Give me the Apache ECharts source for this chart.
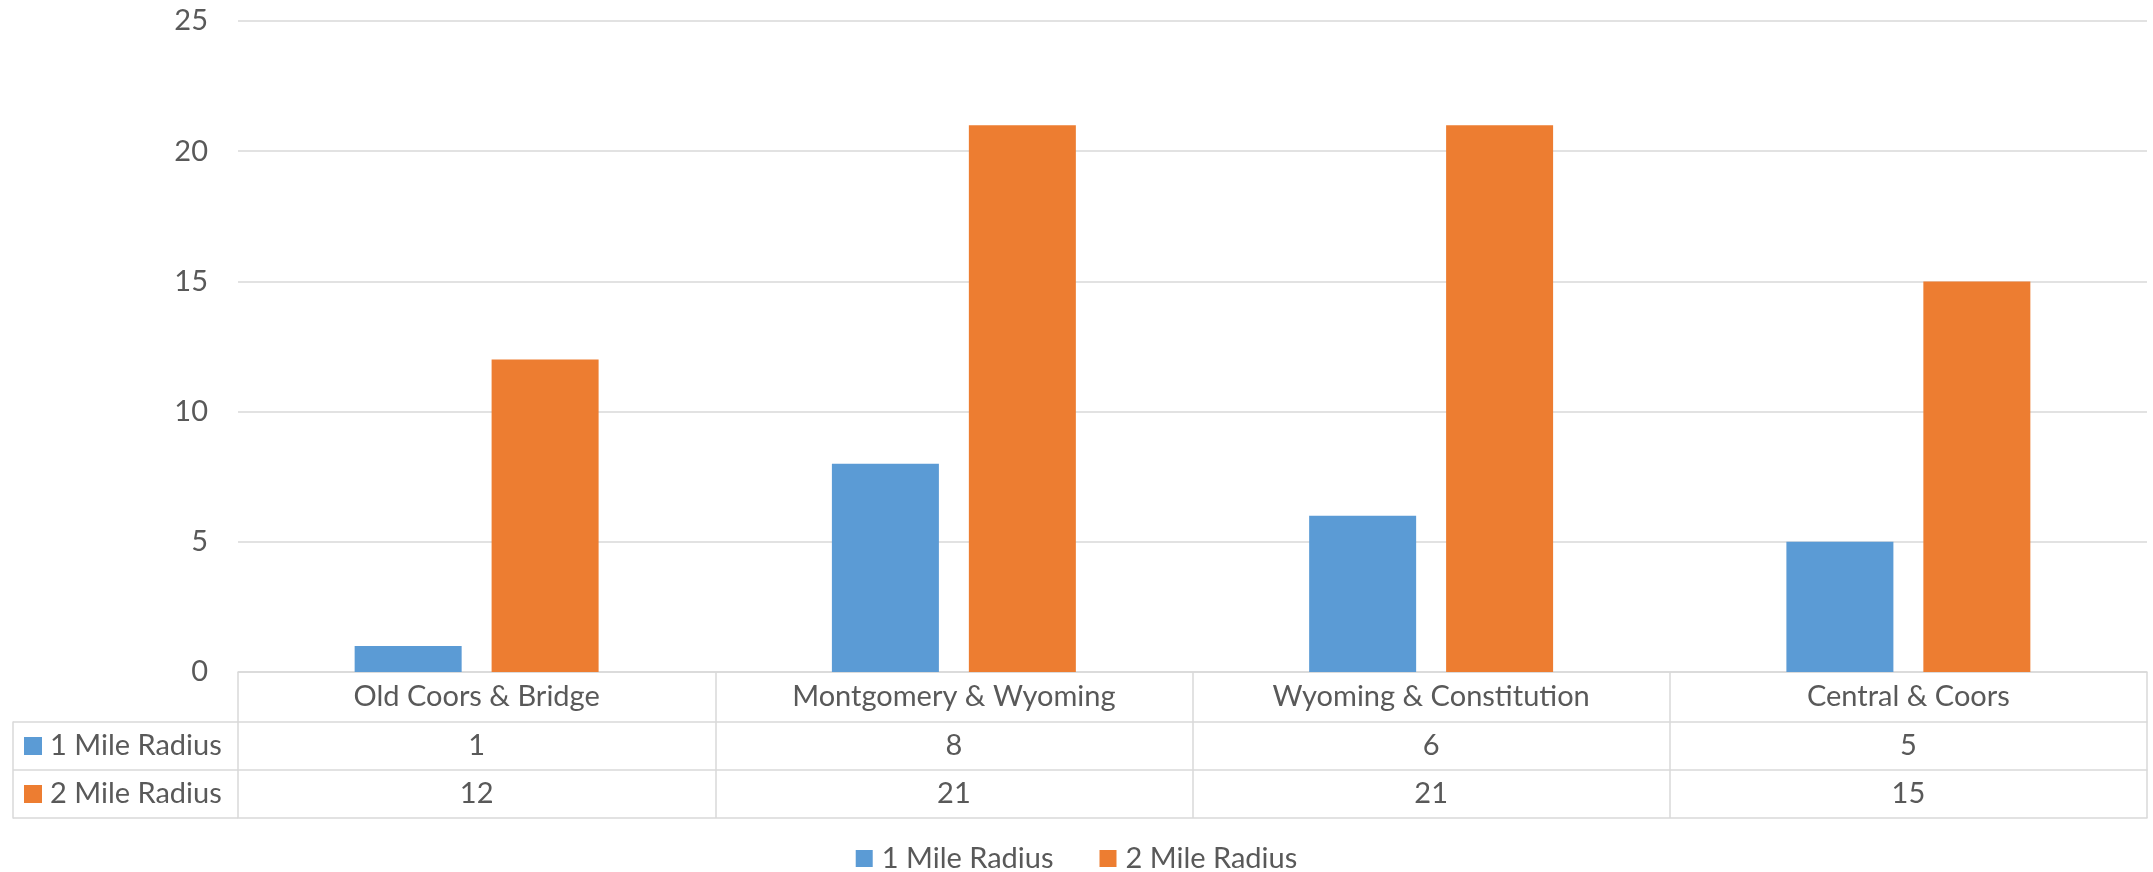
<!DOCTYPE html>
<html>
<head>
<meta charset="utf-8">
<script src="https://cdn.jsdelivr.net/npm/echarts@6/dist/echarts.min.js"></script>
<style>
html,body{margin:0;padding:0;background:#fff;}
#chart{width:2153px;height:872px;}
</style>
</head>
<body>
<div id="chart"></div>
<script>
const categories = ['Old Coors & Bridge', 'Montgomery & Wyoming', 'Wyoming & Constitution', 'Central & Coors'];
const seriesNames = ['1 Mile Radius', '2 Mile Radius'];
const oneMile = [1, 8, 6, 5];
const twoMile = [12, 21, 21, 15];
const colors = ['#5b9bd5', '#ed7d31'];

const FONT = 'Lato';
const FS = 29;
const TXT = '#595959';
const GRID = '#d9d9d9';

const chart = echarts.init(document.getElementById('chart'), null, {renderer: 'canvas'});

const rowAxis = (vals, offset, showLabel) => ({
  type: 'category',
  gridIndex: 0,
  position: 'bottom',
  offset: offset,
  data: vals.map(String),
  axisLine: {show: true, lineStyle: {color: GRID, width: 1.5}},
  axisTick: {show: false},
  axisLabel: {
    show: showLabel, interval: 0, margin: 24, verticalAlign: 'middle',
    color: TXT, fontFamily: FONT, fontSize: FS
  },
  splitLine: {show: false}
});

const option = {
  backgroundColor: '#ffffff',
  animation: false,
  color: colors,
  textStyle: {fontFamily: FONT},
  grid: [
    {left: 238, right: 6, top: 21, bottom: 200, containLabel: false},
    {left: 13, width: 225, top: 722, height: 96, containLabel: false}
  ],
  legend: {
    data: seriesNames,
    left: 'center',
    top: 844,
    padding: 0,
    itemWidth: 17,
    itemHeight: 17,
    itemGap: 46,
    icon: 'rect',
    textStyle: {color: TXT, fontFamily: FONT, fontSize: FS, lineHeight: 29, padding: [0, 0, 0, 4]}
  },
  xAxis: [
    {
      type: 'category',
      gridIndex: 0,
      data: categories,
      axisLine: {show: true, lineStyle: {color: GRID, width: 1.5}},
      axisTick: {show: true, length: 146, interval: 0, lineStyle: {color: GRID, width: 1.5}},
      axisLabel: {interval: 0, margin: 25, verticalAlign: 'middle', color: TXT, fontFamily: FONT, fontSize: FS},
      splitLine: {show: false}
    },
    rowAxis(oneMile, 50, true),
    rowAxis(twoMile, 98, true),
    rowAxis(categories, 146, false),
    {type: 'value', gridIndex: 1, show: false}
  ],
  yAxis: [
    {
      type: 'value',
      gridIndex: 0,
      min: 0, max: 25, interval: 5,
      axisLine: {show: false},
      axisTick: {show: false},
      axisLabel: {margin: 30, color: TXT, fontFamily: FONT, fontSize: FS},
      splitLine: {show: true, lineStyle: {color: GRID, width: 1.5}}
    },
    {
      type: 'category',
      gridIndex: 1,
      inverse: true,
      data: seriesNames,
      axisLine: {show: true, lineStyle: {color: GRID, width: 1.5}},
      axisTick: {show: false},
      splitLine: {show: true, lineStyle: {color: GRID, width: 1.5}},
      axisLabel: {
        inside: true,
        margin: 11,
        formatter: (v, i) => (i === 0 ? '{a| }' : '{b| }') + '{t|' + v + '}',
        rich: {
          a: {width: 18, height: 18, backgroundColor: colors[0], verticalAlign: 'middle'},
          b: {width: 18, height: 18, backgroundColor: colors[1], verticalAlign: 'middle'},
          t: {color: TXT, fontFamily: FONT, fontSize: FS, padding: [0, 0, 0, 8], verticalAlign: 'middle'}
        }
      }
    }
  ],
  series: [
    {
      name: seriesNames[0], type: 'bar', xAxisIndex: 0, yAxisIndex: 0,
      data: oneMile, barWidth: 107, barGap: '28%',
      itemStyle: {color: colors[0]}
    },
    {
      name: seriesNames[1], type: 'bar', xAxisIndex: 0, yAxisIndex: 0,
      data: twoMile, barWidth: 107, barGap: '28%',
      itemStyle: {color: colors[1]}
    }
  ]
};
chart.setOption(option);
</script>
</body>
</html>
